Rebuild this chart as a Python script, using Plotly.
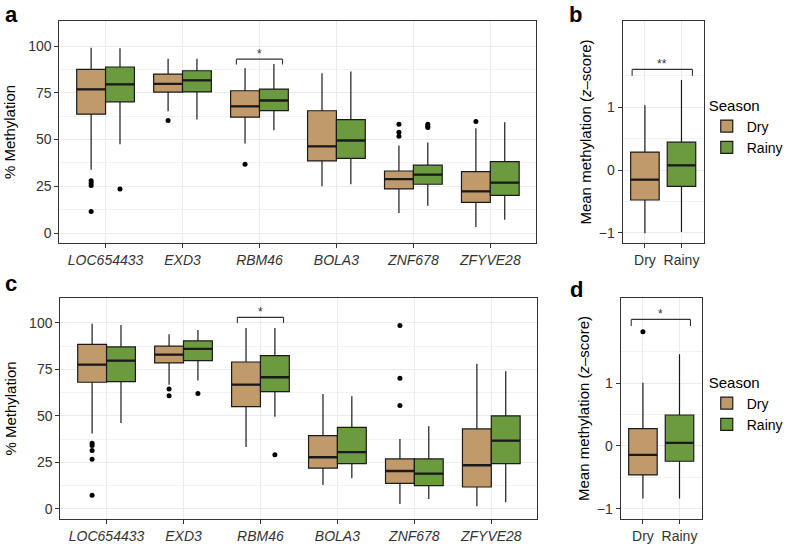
import plotly.graph_objects as go

W, H = 788, 550
TAN = "#C19A6B"
GREEN = "#6B9A3F"
LINE = "#1A1A1A"
FONT = "Liberation Sans, Arial, Helvetica, sans-serif"

genes = ["LOC654433", "EXD3", "RBM46", "BOLA3", "ZNF678", "ZFYVE28"]
seasons = ["Dry", "Rainy"]

# ---- Panel a (gene-level % methylation) ----
a_dry_low = [33.9, 65.2, 47.9, 25.0, 10.7, 3.2]
a_dry_q1 = [63.6, 75.4, 62.0, 38.6, 23.6, 16.4]
a_dry_med = [76.8, 79.8, 67.7, 46.4, 28.8, 22.3]
a_dry_q3 = [87.5, 85.0, 76.1, 65.4, 33.2, 32.9]
a_dry_high = [99.1, 93.2, 88.2, 85.4, 46.8, 56.0]
a_rainy_low = [47.5, 60.7, 55.0, 26.1, 14.6, 7.1]
a_rainy_q1 = [70.2, 75.5, 65.5, 40.0, 26.1, 20.2]
a_rainy_med = [79.5, 81.6, 70.9, 49.5, 31.3, 27.0]
a_rainy_q3 = [88.8, 86.8, 77.0, 60.7, 36.3, 38.2]
a_rainy_high = [98.8, 93.2, 90.4, 86.4, 48.4, 59.3]
a_dry_out_gene = [0, 0, 0, 0, 1, 2, 4, 4, 4, 5]
a_dry_out_val = [28.0, 26.8, 25.5, 11.6, 60.2, 36.8, 58.2, 53.9, 51.8, 59.6]
a_rainy_out_gene = [0, 4, 4, 4]
a_rainy_out_val = [23.6, 58.2, 57.1, 56.4]

# ---- Panel c ----
c_dry_low = [40.5, 66.8, 33.3, 12.9, 2.7, 1.4]
c_dry_q1 = [68.1, 78.5, 55.0, 22.0, 13.8, 11.8]
c_dry_med = [77.6, 83.0, 66.8, 27.8, 20.4, 23.5]
c_dry_q3 = [88.5, 87.5, 79.0, 39.4, 26.9, 43.0]
c_dry_high = [99.5, 93.9, 97.3, 61.8, 37.6, 78.0]
c_rainy_low = [46.2, 69.0, 49.5, 16.5, 5.4, 3.6]
c_rainy_q1 = [68.5, 79.7, 63.1, 24.4, 12.5, 24.4]
c_rainy_med = [79.7, 86.0, 70.8, 30.6, 19.0, 36.7]
c_rainy_q3 = [87.1, 90.3, 82.4, 43.9, 26.9, 50.0]
c_rainy_high = [98.9, 96.2, 97.3, 60.6, 44.4, 74.0]
c_dry_out_gene = [0, 0, 0, 0, 0, 1, 1, 4, 4, 4]
c_dry_out_val = [35.3, 34.1, 31.4, 26.7, 7.3, 64.5, 60.9, 98.6, 70.3, 55.6]
c_rainy_out_gene = [1, 2]
c_rainy_out_val = [62.0, 29.2]

# ---- Panels b and d (mean methylation z-score): low, q1, median, q3, high ----
b_dry = [-1.005, -0.476, -0.153, 0.286, 1.03]
b_rainy = [-0.984, -0.259, 0.074, 0.444, 1.43]
d_dry = [-0.836, -0.46, -0.143, 0.275, 1.005]
d_rainy = [-0.836, -0.243, 0.048, 0.492, 1.455]
d_dry_out = [1.815]
d_rainy_out = []

# significance annotations: (label, bracket y, tip y)
sig_a = ("*", 93.0, 90.2)
sig_c = ("*", 103.0, 100.0)
sig_b = ("**", 1.60, 1.50)
sig_d = ("*", 2.01, 1.905)

fig = go.Figure()


def add_box(xa, ya, pos, low, q1, med, q3, high, fill, name, width, legend, showlegend):
    fig.add_trace(go.Box(
        x=pos, lowerfence=low, q1=q1, median=med, q3=q3, upperfence=high,
        width=width, fillcolor=fill, line=dict(color=LINE, width=1.2),
        whiskerwidth=0, name=name, xaxis=xa, yaxis=ya, legend=legend,
        showlegend=showlegend, hoverinfo="skip", boxpoints=False,
    ))
    # thicker median line (ggplot style)
    xs, ys = [], []
    for p, m in zip(pos, med):
        xs += [p - width / 2, p + width / 2, None]
        ys += [m, m, None]
    fig.add_trace(go.Scatter(x=xs, y=ys, mode="lines", line=dict(color=LINE, width=2.3),
                             xaxis=xa, yaxis=ya, showlegend=False, hoverinfo="skip"))


def add_out(xa, ya, xs, ys):
    if not xs:
        return
    fig.add_trace(go.Scatter(x=xs, y=ys, mode="markers",
                             marker=dict(color="black", size=5),
                             xaxis=xa, yaxis=ya, showlegend=False, hoverinfo="skip"))


GW = 0.375  # dodged box width (gene panels)
SW = 0.78   # box width (season panels)
gpos = list(range(1, len(genes) + 1))
dry_pos = [p - GW / 2 for p in gpos]
rainy_pos = [p + GW / 2 for p in gpos]

# panel a
add_box("x", "y", dry_pos, a_dry_low, a_dry_q1, a_dry_med, a_dry_q3, a_dry_high, TAN, "Dry", GW, "legend", False)
add_box("x", "y", rainy_pos, a_rainy_low, a_rainy_q1, a_rainy_med, a_rainy_q3, a_rainy_high, GREEN, "Rainy", GW, "legend", False)
add_out("x", "y", [dry_pos[g] for g in a_dry_out_gene], a_dry_out_val)
add_out("x", "y", [rainy_pos[g] for g in a_rainy_out_gene], a_rainy_out_val)

# panel c
add_box("x3", "y3", dry_pos, c_dry_low, c_dry_q1, c_dry_med, c_dry_q3, c_dry_high, TAN, "Dry", GW, "legend2", False)
add_box("x3", "y3", rainy_pos, c_rainy_low, c_rainy_q1, c_rainy_med, c_rainy_q3, c_rainy_high, GREEN, "Rainy", GW, "legend2", False)
add_out("x3", "y3", [dry_pos[g] for g in c_dry_out_gene], c_dry_out_val)
add_out("x3", "y3", [rainy_pos[g] for g in c_rainy_out_gene], c_rainy_out_val)

# panel b
for i, (st, col, nm) in enumerate([(b_dry, TAN, "Dry"), (b_rainy, GREEN, "Rainy")]):
    add_box("x2", "y2", [i + 1], [st[0]], [st[1]], [st[2]], [st[3]], [st[4]], col, nm, SW, "legend", True)

# panel d
for i, (st, col, nm, outs) in enumerate([(d_dry, TAN, "Dry", d_dry_out), (d_rainy, GREEN, "Rainy", d_rainy_out)]):
    add_box("x4", "y4", [i + 1], [st[0]], [st[1]], [st[2]], [st[3]], [st[4]], col, nm, SW, "legend2", True)
    add_out("x4", "y4", [i + 1] * len(outs), outs)


def px_dom(a, b, total):
    return [a / total, b / total]


def py_dom(top, bottom):
    return [1 - bottom / H, 1 - top / H]


axis_common = dict(
    showline=True, mirror=True, linecolor="#333333", linewidth=1.2,
    ticks="outside", ticklen=4, tickcolor="#333333", tickwidth=1,
    showgrid=True, gridcolor="#EBEBEB", gridwidth=1, zeroline=False,
    tickfont=dict(family=FONT, size=14, color="#333333"),
)

gene_ticktext = ["<i>%s</i>" % g for g in genes]

fig.update_layout(
    width=W, height=H, margin=dict(l=0, r=0, t=0, b=0),
    paper_bgcolor="white", plot_bgcolor="white",
    font=dict(family=FONT, size=14, color="black"),
    xaxis=dict(axis_common, domain=px_dom(60, 542, W), range=[0.4, 6.6],
               tickvals=gpos, ticktext=gene_ticktext, anchor="y"),
    yaxis=dict(axis_common, domain=py_dom(21, 243), range=[-5.3, 113.4],
               tickvals=[0, 25, 50, 75, 100], anchor="x",
               minor=dict(tickvals=[12.5, 37.5, 62.5, 87.5], showgrid=True, gridcolor="#F2F2F2", gridwidth=0.7, ticks=""),
               title=dict(text="% Methylation", font=dict(size=15), standoff=8)),
    xaxis2=dict(axis_common, domain=px_dom(629, 711, W), range=[0.39, 2.61],
                tickvals=[1, 2], ticktext=seasons, anchor="y2"),
    yaxis2=dict(axis_common, domain=py_dom(21, 243), range=[-1.16, 2.37],
                tickvals=[-1, 0, 1], anchor="x2",
                minor=dict(tickvals=[-0.5, 0.5, 1.5], showgrid=True, gridcolor="#F2F2F2", gridwidth=0.7, ticks=""),
                title=dict(text="Mean methylation (<i>z</i>–score)", font=dict(size=15), standoff=3)),
    xaxis3=dict(axis_common, domain=px_dom(61, 543, W), range=[0.4, 6.6],
                tickvals=gpos, ticktext=gene_ticktext, anchor="y3"),
    yaxis3=dict(axis_common, domain=py_dom(298, 519), range=[-5.4, 113.4],
                tickvals=[0, 25, 50, 75, 100], anchor="x3",
                minor=dict(tickvals=[12.5, 37.5, 62.5, 87.5], showgrid=True, gridcolor="#F2F2F2", gridwidth=0.7, ticks=""),
                title=dict(text="% Methylation", font=dict(size=15), standoff=8)),
    xaxis4=dict(axis_common, domain=px_dom(627, 709, W), range=[0.39, 2.61],
                tickvals=[1, 2], ticktext=seasons, anchor="y4"),
    yaxis4=dict(axis_common, domain=py_dom(298, 519), range=[-1.16, 2.35],
                tickvals=[-1, 0, 1], anchor="x4",
                minor=dict(tickvals=[-0.5, 0.5, 1.5], showgrid=True, gridcolor="#F2F2F2", gridwidth=0.7, ticks=""),
                title=dict(text="Mean methylation (<i>z</i>–score)", font=dict(size=15), standoff=3)),
    legend=dict(x=714 / W, y=1 - 91 / H, xanchor="left", yanchor="top",
                title=dict(text="Season", font=dict(size=15)), font=dict(size=14),
                bgcolor="rgba(0,0,0,0)", tracegroupgap=0, itemwidth=30),
    legend2=dict(x=714 / W, y=1 - 368 / H, xanchor="left", yanchor="top",
                 title=dict(text="Season", font=dict(size=15)), font=dict(size=14),
                 bgcolor="rgba(0,0,0,0)", tracegroupgap=0, itemwidth=30),
)

# significance brackets
def bracket(xa, ya, x0, x1, sig):
    label, yb, yt = sig
    for (a0, b0, a1, b1) in [(x0, yt, x0, yb), (x0, yb, x1, yb), (x1, yb, x1, yt)]:
        fig.add_shape(type="line", xref=xa, yref=ya, x0=a0, y0=b0, x1=a1, y1=b1,
                      line=dict(color="#333333", width=1.1))
    fig.add_annotation(xref=xa, yref=ya, x=(x0 + x1) / 2, y=yb, text=label, showarrow=False,
                       yanchor="middle", yshift=5, font=dict(size=12, color="#333333"))

bracket("x", "y", 2.7, 3.3, sig_a)
bracket("x3", "y3", 2.7, 3.3, sig_c)
bracket("x2", "y2", 0.65, 2.3, sig_b)
bracket("x4", "y4", 0.68, 2.3, sig_d)

# panel letters
for lab, x, y in [("a", 3, 0), ("b", 573, 0), ("c", 3, 269), ("d", 574, 275)]:
    fig.add_annotation(xref="paper", yref="paper", x=x / W, y=1 - y / H, xanchor="left", yanchor="top",
                       text="<b>%s</b>" % lab, showarrow=False, font=dict(size=22, color="black"))

fig.write_html("out.html", config={"displayModeBar": False},
               post_script="document.body.style.margin='0';document.body.style.overflow='hidden';")
